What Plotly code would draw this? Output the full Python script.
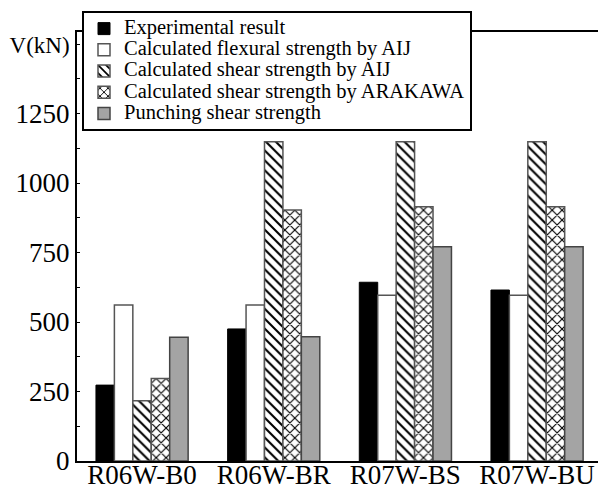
import plotly.graph_objects as go

specimens = ["R06W-B0", "R06W-BR", "R07W-BS", "R07W-BU"]
experimental = [273, 475, 643, 615]
flexural_aij = [561, 561, 596, 596]
shear_aij = [217, 1148, 1148, 1148]
shear_arakawa = [297, 903, 915, 915]
punching = [445, 447, 771, 771]

series_names = [
    "Experimental result",
    "Calculated flexural strength by AIJ",
    "Calculated shear strength by AIJ",
    "Calculated shear strength by ARAKAWA",
    "Punching shear strength",
]
y_tick_vals = [0, 250, 500, 750, 1000, 1250, 1500]
y_tick_text = ["0", "250", "500", "750", "1000", "1250",
               '<span style="font-size:23px">V(kN)</span>']
y_minor_vals = [125, 375, 625, 875, 1125, 1375]

FONT = "Liberation Serif, Times New Roman, serif"
W, H = 598, 486
ML, MR, MT, MB = 77, 0, 32, 25

def lbl(s):
    return '<span style="font-size:20.5px">' + s + "</span>"

pat = dict(fgcolor="black", bgcolor="white", size=7, solidity=0.3, fgopacity=1)

fig = go.Figure()
fig.add_trace(go.Bar(x=specimens, y=experimental, name=lbl(series_names[0]),
                     marker=dict(color="black", line=dict(color="black", width=1))))
fig.add_trace(go.Bar(x=specimens, y=flexural_aij, name=lbl(series_names[1]),
                     marker=dict(color="white", line=dict(color="#555555", width=1.5))))
fig.add_trace(go.Bar(x=specimens, y=shear_aij, name=lbl(series_names[2]),
                     marker=dict(color="white", line=dict(color="#555555", width=1.5),
                                 pattern=dict(shape="\\", **pat))))
fig.add_trace(go.Bar(x=specimens, y=shear_arakawa, name=lbl(series_names[3]),
                     marker=dict(color="white", line=dict(color="#555555", width=1.5),
                                 pattern=dict(shape="x", **pat))))
fig.add_trace(go.Bar(x=specimens, y=punching, name=lbl(series_names[4]),
                     marker=dict(color="#a4a4a4", line=dict(color="#444444", width=1.5))))

plot_h = H - MT - MB
y_max = plot_h / 69.5 * 250

fig.update_layout(
    width=W, height=H,
    margin=dict(l=ML, r=MR, t=MT, b=MB, pad=0, autoexpand=False),
    paper_bgcolor="white", plot_bgcolor="white",
    barmode="group", bargap=0.3, bargroupgap=0,
    font=dict(family=FONT, color="black"),
    showlegend=True,
    legend=dict(
        x=(82 - ML) / (W - ML - MR), y=(H - MB - 11) / plot_h,
        xanchor="left", yanchor="top",
        bgcolor="white", bordercolor="black", borderwidth=2,
        font=dict(family=FONT, size=14, color="black"),
        traceorder="normal", tracegroupgap=0,
    ),
)
fig.update_xaxes(
    range=[-0.494, 3.463], automargin=False,
    showline=True, linecolor="black", linewidth=2, mirror=True,
    ticks="", showgrid=False, zeroline=False,
    ticklabelstandoff=-11,
    tickfont=dict(family=FONT, size=27, color="black"),
)
fig.update_yaxes(
    range=[0, y_max], automargin=False,
    showline=True, linecolor="black", linewidth=2, mirror=False,
    tickmode="array", tickvals=y_tick_vals, ticktext=y_tick_text,
    ticks="inside", ticklen=3, tickwidth=1, tickcolor="black",
    minor=dict(tickmode="array", tickvals=y_minor_vals, ticks="inside", ticklen=3,
               tickwidth=1, tickcolor="black", showgrid=False),
    showgrid=False, zeroline=False,
    tickfont=dict(family=FONT, size=27, color="black"),
)

fig.write_html("out.html")
